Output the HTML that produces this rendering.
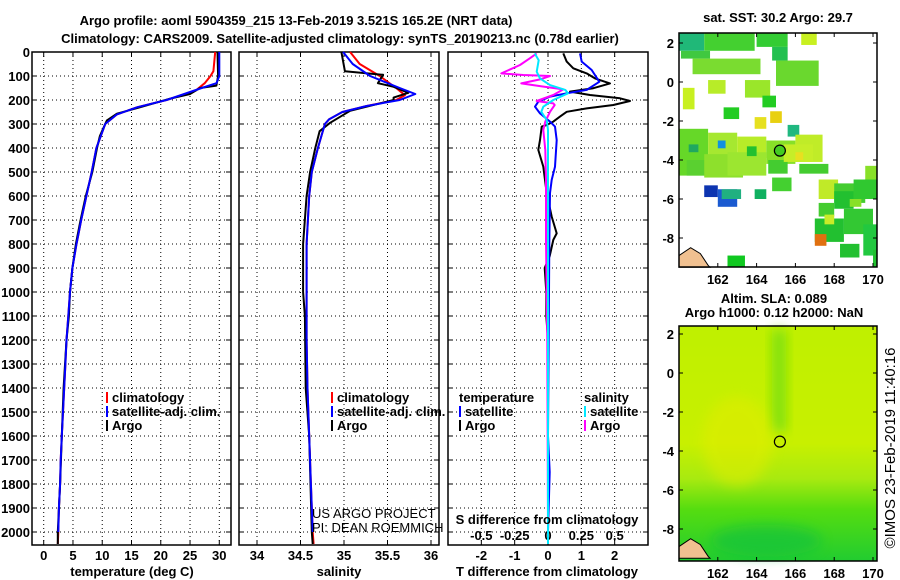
<!DOCTYPE html>
<html><head><meta charset="utf-8"><style>
body{margin:0;background:#fff;width:900px;height:580px;overflow:hidden}
svg{display:block;font-family:"Liberation Sans",sans-serif}
text{font-weight:bold;font-size:13px;fill:#000}
</style></head><body>
<svg id="c" width="900" height="580" viewBox="0 0 900 580"></svg>
<script>
// ---------- data ----------
const depthTicks=[0,100,200,300,400,500,600,700,800,900,1000,1100,1200,1300,1400,1500,1600,1700,1800,1900,2000];
const tempTicks=[0,5,10,15,20,25,30];
const salTicks=[34,34.5,35,35.5,36];
const salTickLabels=["34","34.5","35","35.5","36"];
const tdTicks=[-2,-1,0,1,2];
const sdTicks=[-0.5,-0.25,0,0.25,0.5];
const sdTickLabels=["-0.5","-0.25","0","0.25","0.5"];
const lonTicks=[162,164,166,168,170];
const latTicks=[2,0,-2,-4,-6,-8];

const tArgoDepth=[0,100,140,150,175,195,230,257,285,300,350,400,500,600,700,800,900,1000,1100,1200,1400,1600,1800,2000,2050];
const tArgoVal=[29.7,29.8,29.5,26.7,25,21.5,16.5,12.5,10.8,10.5,9.6,9.1,8.3,7.2,6.3,5.5,4.9,4.5,4.3,3.9,3.4,3.1,2.8,2.4,2.4];
const tClimDepth=[0,80,100,130,160,200,230,260,300,400,500,600,700,800,900,1000,1100,1200,1300,1400,1500,1600,1700,1800,1900,2000,2050];
const tClimVal=[29.3,29.0,28.5,27.5,26,21,16,12.5,10.5,9.0,8.2,7.3,6.4,5.6,4.9,4.5,4.2,3.9,3.7,3.5,3.3,3.1,2.9,2.8,2.6,2.5,2.4];
const tSatDepth=[0,100,130,150,175,200,230,260,300,400,500,600,700,800,900,1000,1100,1200,1300,1400,1500,1600,1700,1800,1900,2000];
const tSatVal=[30.0,30.0,29.5,27,24,21,16,12.5,10.5,9.0,8.2,7.3,6.4,5.6,4.9,4.5,4.2,3.9,3.7,3.5,3.3,3.1,2.9,2.8,2.6,2.5];

const sArgoDepth=[0,80,95,130,145,170,190,200,245,295,330,400,500,600,800,1000,1100,1400,1600,2000,2050];
const sArgoVal=[34.97,35.01,35.45,35.39,35.57,35.74,35.57,35.57,35.07,34.84,34.72,34.67,34.61,34.57,34.53,34.53,34.55,34.56,34.6,34.63,34.64];
const sClimDepth=[0,50,100,150,180,200,225,250,280,300,400,500,600,800,1000,1200,1400,1600,1800,2000,2050];
const sClimVal=[35.07,35.18,35.41,35.6,35.7,35.6,35.26,34.98,34.83,34.78,34.70,34.63,34.6,34.57,34.57,34.57,34.58,34.6,34.62,34.64,34.65];
const sSatDepth=[0,50,100,150,175,200,225,250,280,300,400,500,600,800,1000,1200,1400,1600,1800,2000];
const sSatVal=[34.99,35.1,35.3,35.64,35.82,35.64,35.26,34.98,34.83,34.78,34.70,34.63,34.6,34.57,34.57,34.57,34.58,34.6,34.62,34.64];

const dTSatDepth=[6,40,75,124,158,172,186,207,228,256,290,311,367,478,533,588,800,1200,1600,1750,2000];
const dTSatVal=[0.96,1.01,1.31,1.54,1.16,0.56,0.06,-0.29,-0.39,-0.24,0.06,0.21,0.26,0.21,0.11,0.06,0.04,0.02,0.0,0.05,0.0];
const dTArgoDepth=[6,40,68,89,110,131,151,165,179,193,204,221,235,249,269,290,304,311,367,408,478,533,589,686,756,783,850,900,1000,1100,1200];
const dTArgoVal=[0.46,0.56,0.76,1.16,1.41,1.86,1.36,0.66,1.26,2.16,2.46,1.96,1.16,0.56,0.36,0.16,-0.04,-0.19,-0.24,-0.29,-0.14,-0.09,-0.04,0.11,0.26,0.16,0.05,-0.1,-0.05,-0.05,0];
const dSArgoDepth=[6,26,54,89,96,100,114,131,142,156,179,204,214,221,249,290,325,408,533,783,1200,2000];
const dSArgoVal=[-0.085,-0.135,-0.21,-0.35,-0.185,0.015,-0.06,-0.2,-0.06,0.115,0.04,-0.085,0.04,0.05,0.015,-0.02,-0.035,-0.02,-0.015,-0.015,-0.005,0];
const dSSatDepth=[6,34,82,110,138,158,172,200,228,249,283,325,505,783,2000,2050];
const dSSatVal=[-0.1,-0.07,-0.085,-0.06,0.015,0.13,0.15,0.04,-0.035,-0.05,-0.01,0,0,0,0,0];

// SST cells: lon, lat(top), width, height, colour
const sstLon=[160.0,161.3,160.1,160.7,164.0,166.3,164.8,165.0,161.5,160.2,163.4,164.3,162.3,163.9,164.7,165.6,160.0,161.5,163.0,164.5,166.0,160.4,161.3,162.5,164.6,165.4,166.2,167.2,168.0,169.6,167.2,168.0,169.0,167.0,168.5,169.5,161.3,162.0,162.2,163.9,167.0,168.3,170.0,162.5,164.8,160.5,162.0,163.5,166.0,168.8,167.5];
const sstLat=[2.5,2.5,1.6,1.2,2.5,2.5,1.8,1.1,0.1,-0.3,0.1,-0.7,-1.3,-1.8,-1.5,-2.2,-2.4,-2.6,-2.8,-3.0,-2.7,-4.0,-3.7,-3.6,-4.0,-3.2,-4.2,-5.0,-5.2,-4.3,-6.2,-5.6,-5.0,-7.0,-6.5,-7.3,-5.3,-5.5,-5.5,-5.5,-7.8,-8.3,-8.6,-8.9,-4.9,-3.2,-3.0,-3.3,-3.6,-6.0,-6.8];
const sstW=[1.3,2.6,1.5,3.5,1.6,0.8,0.8,2.2,0.9,0.6,1.3,0.7,0.8,0.6,0.6,0.6,1.5,1.5,1.5,1.5,1.4,1.0,2.0,2.0,1.0,1.5,1.5,1.0,1.6,0.6,0.8,1.0,1.2,1.5,1.5,0.7,0.7,1.0,1.0,0.6,0.6,1.0,0.2,0.9,1.0,0.5,0.4,0.5,0.4,0.6,0.5];
const sstH=[0.9,0.9,0.4,0.8,0.7,0.6,0.7,1.3,0.7,1.1,0.9,0.6,0.6,0.6,0.6,0.6,2.4,1.2,1.1,1.2,1.4,0.8,1.2,1.2,0.7,0.9,0.5,1.0,1.0,1.3,0.7,0.9,1.0,1.2,1.3,1.6,0.6,0.9,0.5,0.5,0.6,0.7,0.9,0.6,0.7,0.4,0.4,0.5,0.4,0.4,0.5];
const sstCol=["#20b878","#44d030","#40c840","#7adc30","#33cc33","#c8f020","#22c050","#6ad82e","#b8ec28","#c8f020","#9ae62a","#22cc22","#22cc22","#e6e020","#e8d010","#20b880","#66d828","#a6e830","#b8ec28","#88e028","#c0ec28","#5ad030","#8ee02c","#9ce630","#44cc30","#c6ee28","#44cc30","#c0ea28","#44cc30","#88e028","#44cc30","#22c030","#30c830","#22c030","#33c833","#22c840","#0c34b0","#1a5ad0","#20b080","#10b060","#e07010","#22c030","#22c030","#10c820","#44d030","#20a860","#1090e0","#22c030","#e8e020","#88e028","#c8ec28"];

// ---------- helpers ----------
const NS="http://www.w3.org/2000/svg";
const svg=document.getElementById('c');
function mk(tag,attrs,parent){const e=document.createElementNS(NS,tag);for(const k in attrs)e.setAttribute(k,attrs[k]);(parent||svg).appendChild(e);return e;}
function txt(x,y,s,anchor,size,parent){const t=mk('text',{x:x,y:y,'text-anchor':anchor||'middle'},parent);if(size)t.setAttribute('font-size',size);t.textContent=s;return t;}

const TOP=52,BOT=545;
const yD=d=>TOP+d*0.24;
const panels=[
 {l:32,r:231,min:-2,max:32},
 {l:239,r:439,min:33.793,max:36.092},
 {l:448,r:648,min:-3,max:3}
];
const xP=(p,v)=>p.l+(v-p.min)/(p.max-p.min)*(p.r-p.l);
const xS=v=>xP(panels[2],v*4);

panels.forEach((p,i)=>{
 const g=mk('g',{});
 
 
 depthTicks.forEach(d=>{ if(d>0){const ln=mk('line',{x1:p.l,x2:p.r,y1:yD(d),y2:yD(d),stroke:'#000','stroke-width':1,'stroke-dasharray':'1,3'},g);}
   mk('line',{x1:p.l,x2:p.l+5,y1:yD(d),y2:yD(d),stroke:'#000'},g);mk('line',{x1:p.r-5,x2:p.r,y1:yD(d),y2:yD(d),stroke:'#000'},g);});
 const xt=i==0?tempTicks:i==1?salTicks:tdTicks;
 xt.forEach(v=>{const x=xP(p,v);const ln=mk('line',{x1:x,x2:x,y1:TOP,y2:BOT,stroke:'#000','stroke-dasharray':'1,3'},g);
   mk('line',{x1:x,x2:x,y1:BOT-5,y2:BOT,stroke:'#000'},g);mk('line',{x1:x,x2:x,y1:TOP,y2:TOP+5,stroke:'#000'},g);});
 const fr=mk('rect',{x:p.l,y:TOP,width:p.r-p.l,height:BOT-TOP,fill:'none',stroke:'#000','stroke-width':1.5},g);
 
});
depthTicks.forEach(d=>{const t=txt(30,yD(d)+5,String(d),'end');});
tempTicks.forEach(v=>{const t=txt(xP(panels[0],v),560,String(v));});
salTicks.forEach((v,i)=>{const t=txt(xP(panels[1],v),560,salTickLabels[i]);});
tdTicks.forEach(v=>{const t=txt(xP(panels[2],v),560,String(v));});
sdTicks.forEach((v,i)=>{const t=txt(xS(v),540,sdTickLabels[i]);});

function line(xs,ds,xf,col,name,w){
 const pts=xs.map((v,i)=>xf(v).toFixed(1)+','+yD(ds[i]).toFixed(1)).join(' ');
 const e=mk('polyline',{points:pts,fill:'none',stroke:col,'stroke-width':w||2,'stroke-linejoin':'round'});
 
 
}
const fT=v=>xP(panels[0],v), fSa=v=>xP(panels[1],v), fD=v=>xP(panels[2],v);
line(tClimVal,tClimDepth,fT,'#ff0000','temp-climatology-line');
line(tArgoVal,tArgoDepth,fT,'#000','temp-argo-line');
line(tSatVal,tSatDepth,fT,'#0000ff','temp-satellite-line');
line(sClimVal,sClimDepth,fSa,'#ff0000','sal-climatology-line');
line(sArgoVal,sArgoDepth,fSa,'#000','sal-argo-line');
line(sSatVal,sSatDepth,fSa,'#0000ff','sal-satellite-line');
line(dTArgoVal,dTArgoDepth,fD,'#000','t-diff-argo-line');
line(dTSatVal,dTSatDepth,fD,'#0000ff','t-diff-satellite-line');
line(dSArgoVal,dSArgoDepth,xS,'#ff00ff','s-diff-argo-line');
line(dSSatVal,dSSatDepth,xS,'#00e8ff','s-diff-satellite-line');

function leg(x,y,col,label,name){const g=mk('g',{});
 mk('rect',{x:x,y:y-10,width:2,height:11,fill:col},g);txt(x+6,y,label,'start',null,g);}
leg(106,402,'#ff0000','climatology','legend-climatology');
leg(106,416,'#0000ff','satellite-adj. clim.','legend-satellite');
leg(106,430,'#000','Argo','legend-argo');
leg(331,402,'#ff0000','climatology','legend-climatology-2');
leg(331,416,'#0000ff','satellite-adj. clim.','legend-satellite-2');
leg(331,430,'#000','Argo','legend-argo-2');
let t=txt(459,402,'temperature','start');
t=txt(584,402,'salinity','start');
leg(459,416,'#0000ff','satellite','legend-t-satellite');
leg(459,430,'#000','Argo','legend-t-argo');
leg(584,416,'#00e8ff','satellite','legend-s-satellite');
leg(584,430,'#ff00ff','Argo','legend-s-argo');
t=txt(547,524,'S difference from climatology');
t=txt(312,518,'US ARGO PROJECT','start');t.setAttribute('style','font-weight:normal');
t=txt(312,532,'PI: DEAN ROEMMICH','start');t.setAttribute('style','font-weight:normal');
t=txt(132,576,'temperature (deg C)',null,'14px');
t=txt(339,576,'salinity',null,'14px');
t=txt(547,576,'T difference from climatology',null,'14px');
t=txt(296,25,'Argo profile: aoml 5904359_215 13-Feb-2019 3.521S 165.2E (NRT data)',null,'16px');
t=txt(340,43,'Climatology: CARS2009. Satellite-adjusted climatology: synTS_20190213.nc (0.78d earlier)',null,'16px');

// ---------- maps ----------
const ML=679,MR=877;
const lonX=lon=>ML+(lon-160)*19.4;
function map(top,bot,y0,name){
 const latY=lat=>y0-lat*19.5;
 const g=mk('g',{});
 return {g,latY,top,bot};
}
const m1=map(33,267,82,'sst-map');
mk('rect',{x:ML,y:33,width:MR-ML,height:234,fill:'#fff'},m1.g);
sstLon.forEach((lon,i)=>{const r=mk('rect',{x:lonX(lon),y:m1.latY(sstLat[i]),width:sstW[i]*19.4,height:sstH[i]*19.5,fill:sstCol[i]},m1.g);
 });
const m2=map(326,561,373,'sla-map');
const defs=mk('defs',{});
const lg=mk('linearGradient',{id:'slag',x1:0,y1:0,x2:0,y2:1},defs);
[[0,'#bff000'],[0.5,'#c8f000'],[0.65,'#a8ea10'],[0.78,'#55dd10'],[1,'#22cc30']].forEach(s=>mk('stop',{offset:s[0],'stop-color':s[1]},lg));
const fl=mk('filter',{id:'blur',x:'-50%',y:'-50%',width:'200%',height:'200%'},defs);
mk('feGaussianBlur',{stdDeviation:6},fl);
mk('rect',{x:ML,y:326,width:MR-ML,height:235,fill:'url(#slag)'},m2.g);
mk('rect',{x:lonX(164.8),y:m2.latY(2.2),width:14,height:m2.latY(-3)-m2.latY(2.2),fill:'#7ee010',filter:'url(#blur)'},m2.g);
mk('ellipse',{cx:lonX(163),cy:m2.latY(-3.5),rx:35,ry:45,fill:'#e4ec00',opacity:0.5,filter:'url(#blur)'},m2.g);
mk('ellipse',{cx:lonX(164.5),cy:m2.latY(-8.6),rx:55,ry:16,fill:'#10c040',opacity:0.6,filter:'url(#blur)'},m2.g);
[m1,m2].forEach((m,k)=>{
 const coast=mk('polygon',{points:[[160,-9.5],[160,-8.9],[160.6,-8.5],[161.1,-8.8],[161.5,-9.4],[161.6,-9.5]].map(p=>lonX(p[0])+','+m.latY(p[1])).join(' '),fill:'#f0c090',stroke:'#000','stroke-width':1},m.g);
 
 const fr=mk('rect',{x:ML,y:m.top,width:MR-ML,height:m.bot-m.top,fill:'none',stroke:'#000','stroke-width':1.5},m.g);
 
 lonTicks.forEach(lon=>{const x=lonX(lon);mk('line',{x1:x,x2:x,y1:m.bot,y2:m.bot-4,stroke:'#000'},m.g);mk('line',{x1:x,x2:x,y1:m.top,y2:m.top+4,stroke:'#000'},m.g);
  const tl=txt(x,m.bot+17,String(lon),'middle',null,m.g);});
 latTicks.forEach(lat=>{const y=m.latY(lat);mk('line',{x1:ML,x2:ML+4,y1:y,y2:y,stroke:'#000'},m.g);mk('line',{x1:MR-4,x2:MR,y1:y,y2:y,stroke:'#000'},m.g);
  const tl=txt(674,y+5,String(lat),'end',null,m.g);});
 const c=mk('circle',{cx:lonX(165.2),cy:m.latY(-3.52),r:5.5,fill:k==0?'#44cc22':'none',stroke:'#000','stroke-width':1.2},m.g);
 
});
t=txt(778,22,'sat. SST: 30.2 Argo: 29.7');
t=txt(774,303,'Altim. SLA: 0.089');
t=txt(774,317,'Argo h1000: 0.12 h2000: NaN');
t=mk('text',{x:0,y:0,transform:'translate(895,448) rotate(-90)','text-anchor':'middle',style:'font-weight:normal;font-size:15px'});t.textContent='©IMOS 23-Feb-2019 11:40:16';

</script>
</body></html>
